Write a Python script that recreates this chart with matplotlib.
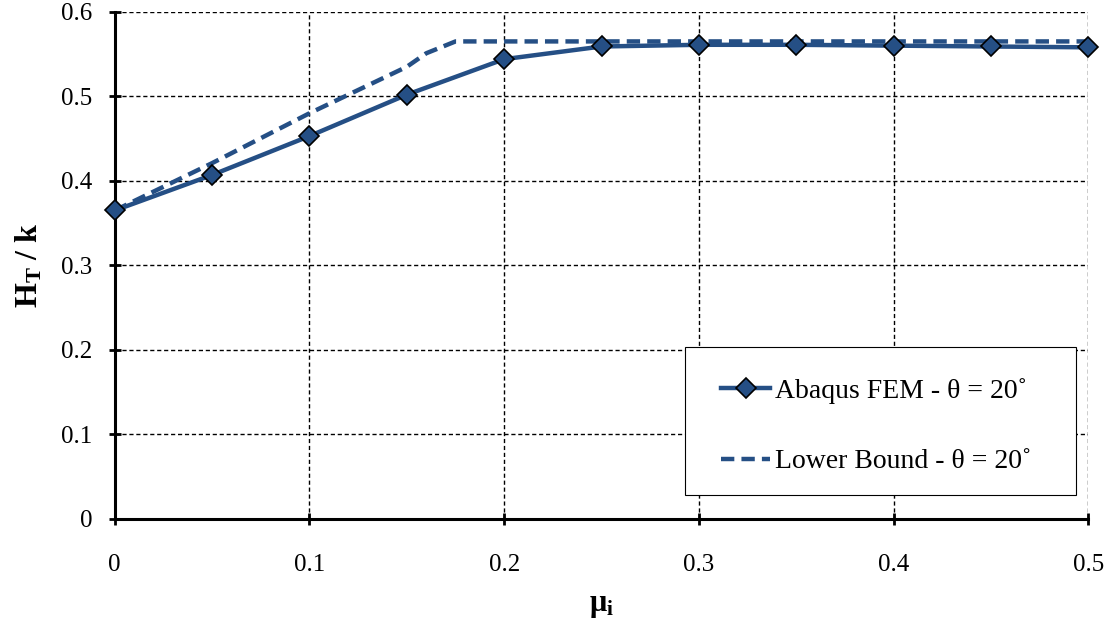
import matplotlib

matplotlib.use("Agg")
import matplotlib.pyplot as plt
from matplotlib.patches import Rectangle

# friction coefficient mu_i and normalised thrust H_T / k
mu_fem = [0, 0.05, 0.1, 0.15, 0.2, 0.25, 0.3, 0.35, 0.4, 0.45, 0.5]
ht_fem = [0.365, 0.407, 0.453, 0.502, 0.544, 0.559, 0.561, 0.561, 0.560, 0.559, 0.558]

mu_lb = [0, 0.05, 0.1, 0.15, 0.16, 0.175, 0.2, 0.25, 0.3, 0.35, 0.4, 0.45, 0.5]
ht_lb = [0.365, 0.421, 0.480, 0.535, 0.551, 0.565, 0.565, 0.565, 0.565, 0.565, 0.565, 0.565, 0.565]

BLUE = "#254F85"

plt.rcParams["font.family"] = ["Liberation Serif", "DejaVu Serif"]
plt.rcParams["mathtext.fontset"] = "custom"
plt.rcParams["mathtext.rm"] = "Liberation Serif"
plt.rcParams["mathtext.it"] = "Liberation Serif:italic"
plt.rcParams["mathtext.bf"] = "Liberation Serif:bold"

fig = plt.figure(figsize=(11.14, 6.23), dpi=100)
ax = fig.add_axes([0.103, 0.167, 0.874, 0.814])

ax.plot(mu_fem, ht_fem, "-", color=BLUE, lw=3.2, marker="D", markersize=10,
        markerfacecolor=BLUE, markeredgecolor="black", markeredgewidth=1.2,
        label="Abaqus FEM - θ = 20˚", zorder=4, clip_on=False)
ax.plot(mu_lb, ht_lb, "--", color=BLUE, lw=3.2, dashes=(3, 1.6),
        label="Lower Bound - θ = 20˚", zorder=3, clip_on=False)

ax.set_xlim(0, 0.5)
ax.set_ylim(0, 0.6)
ax.set_xticks([0, 0.1, 0.2, 0.3, 0.4, 0.5])
ax.set_yticks([0, 0.1, 0.2, 0.3, 0.4, 0.5, 0.6])
ax.set_xticklabels(["0", "0.1", "0.2", "0.3", "0.4", "0.5"])
ax.set_yticklabels(["0", "0.1", "0.2", "0.3", "0.4", "0.5", "0.6"])
ax.tick_params(direction="inout", length=8, width=2, labelsize=18)
ax.tick_params(axis="x", pad=21)
ax.tick_params(axis="y", pad=12)

ax.grid(True, color="black", linestyle=(0, (3, 2)), linewidth=1)
for s in ("top", "right"):
    ax.spines[s].set_visible(False)
for s in ("left", "bottom"):
    ax.spines[s].set_linewidth(2.2)

ax.set_xlabel(r"$\mathbf{\mu_i}$", fontsize=22, labelpad=11)
ax.set_ylabel(r"$\mathbf{H_T\ /\ k}$", fontsize=23, labelpad=12)

# legend box drawn separately so its size can match the original
ax.add_patch(Rectangle((0.586, 0.047), 0.401, 0.292, transform=ax.transAxes,
                       facecolor="white", edgecolor="black", linewidth=0.8,
                       zorder=4.5, clip_on=False))
leg = ax.legend(loc="upper left", bbox_to_anchor=(0.623, 0.278),
                fontsize=20, frameon=False, borderpad=0, borderaxespad=0,
                labelspacing=1.62, handlelength=1.75, handletextpad=0.2)
leg.set_zorder(5)

fig.savefig("out.png", dpi=100)
